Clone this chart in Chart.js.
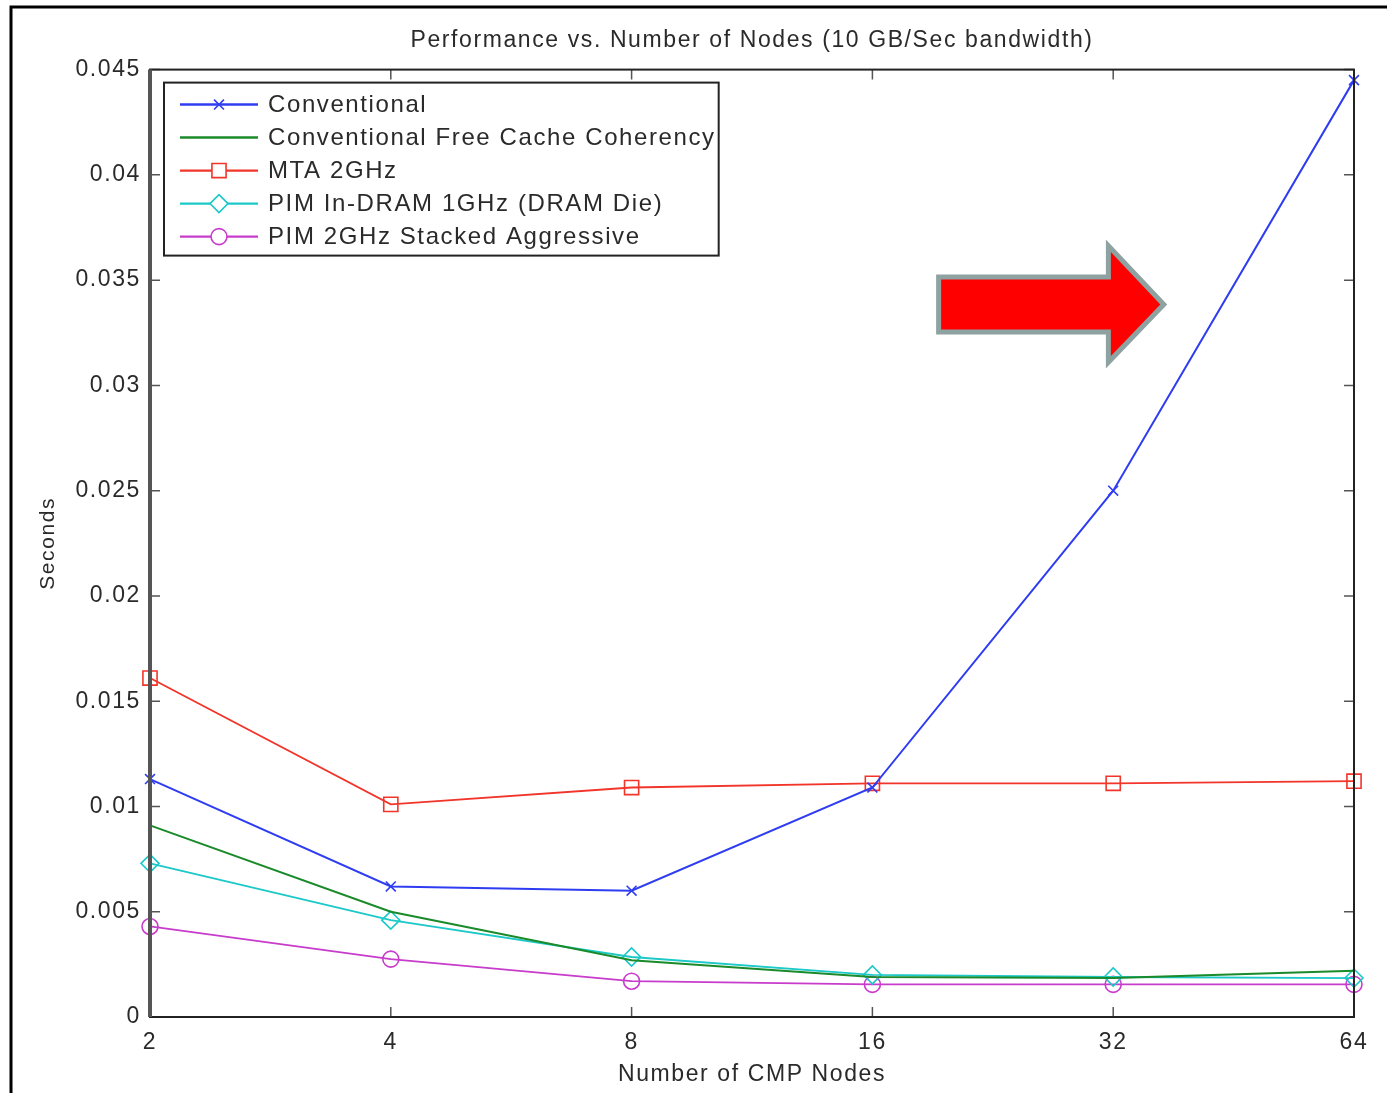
<!DOCTYPE html>
<html>
<head>
<meta charset="utf-8">
<title>Performance vs. Number of Nodes</title>
<script src="https://cdn.jsdelivr.net/npm/chart.js@4/dist/chart.umd.min.js"></script>
<style>
  html, body { margin: 0; padding: 0; background: #fff; }
  #wrap { width: 1387px; height: 1093px; }
</style>
</head>
<body>
<div id="wrap"><canvas id="myChart" width="1387" height="1093"></canvas></div>
<script>
// node counts (log2 spaced, so a category axis is enough)
const nodes = ["2", "4", "8", "16", "32", "64"];
const yTicks = [0, 0.005, 0.01, 0.015, 0.02, 0.025, 0.03, 0.035, 0.04, 0.045];

// seconds
const conventional = [0.0113, 0.0062, 0.0060, 0.0109, 0.0250, 0.0445];
const conventionalFree = [0.0091, 0.0050, 0.0027, 0.0019, 0.00185, 0.0022];
const mta2GHz = [0.0161, 0.0101, 0.0109, 0.0111, 0.0111, 0.0112];
const pimInDram = [0.0073, 0.0046, 0.00285, 0.0020, 0.0019, 0.00185];
const pimStacked = [0.0043, 0.00275, 0.0017, 0.00155, 0.00155, 0.00155];

const FONT = "'Liberation Sans', Arial, sans-serif";
const TXT = "#2a2a2a";
const SPACING = "1.6px";

// the old matlab export has wide letter spacing, canvas state gets reset on resize
const spacingPlugin = {
    id: "spacing",
    beforeUpdate(chart) { chart.ctx.letterSpacing = SPACING; },
    beforeLayout(chart) { chart.ctx.letterSpacing = SPACING; },
    beforeDraw(chart) { chart.ctx.letterSpacing = SPACING; }
};

// frame, inner tick marks, outer figure border
const framePlugin = {
    id: "frame",
    beforeDraw(chart) {
        const c = chart.ctx;
        c.save();
        c.strokeStyle = "#000";
        c.lineWidth = 3;
        c.strokeRect(11, 7, chart.width + 20, chart.height + 20);
        c.restore();
    },
    afterDraw(chart) {
        const c = chart.ctx;
        const a = chart.chartArea;
        const xs = chart.scales.x, ys = chart.scales.y;
        c.save();
        c.strokeStyle = "#555";
        c.lineWidth = 1.5;
        c.beginPath();
        yTicks.forEach(v => {
            const py = ys.getPixelForValue(v);
            c.moveTo(a.left, py); c.lineTo(a.left + 10, py);
            c.moveTo(a.right, py); c.lineTo(a.right - 10, py);
        });
        nodes.forEach((n, i) => {
            const px = xs.getPixelForValue(i);
            c.moveTo(px, a.bottom); c.lineTo(px, a.bottom - 10);
            c.moveTo(px, a.top); c.lineTo(px, a.top + 10);
        });
        c.stroke();
        c.strokeStyle = "#222";
        c.lineWidth = 2;
        c.strokeRect(a.left, a.top, a.right - a.left, a.bottom - a.top);
        c.strokeStyle = "#555";
        c.lineWidth = 4;
        c.beginPath();
        c.moveTo(a.left, a.top); c.lineTo(a.left, a.bottom);
        c.stroke();
        c.restore();
    }
};

// legend box in the upper left of the axes, like matlab
const legendPlugin = {
    id: "boxLegend",
    afterDraw(chart) {
        const c = chart.ctx;
        const a = chart.chartArea;
        const sets = chart.data.datasets;
        const left = a.left + 14, top = a.top + 13;
        const rowH = 33;
        c.save();
        c.font = "24px " + FONT;
        let maxW = 0;
        sets.forEach(d => { maxW = Math.max(maxW, c.measureText(d.label).width); });
        const w = 104 + maxW + 3, h = sets.length * rowH + 8;
        c.fillStyle = "#fff";
        c.fillRect(left, top, w, h);
        c.strokeStyle = "#222";
        c.lineWidth = 2;
        c.strokeRect(left, top, w, h);
        sets.forEach((d, i) => {
            const cy = top + 22 + i * rowH;
            c.strokeStyle = d.borderColor;
            c.lineWidth = d.borderWidth + 0.5;
            c.beginPath();
            c.moveTo(left + 16, cy); c.lineTo(left + 94, cy);
            c.stroke();
            if (d.pointRadius > 0) {
                c.fillStyle = "#fff";
                c.lineWidth = d.pointBorderWidth;
                Chart.helpers.drawPoint(c, {
                    pointStyle: d.pointStyle, radius: d.pointRadius,
                    rotation: 0, borderWidth: d.pointBorderWidth
                }, left + 55, cy);
            }
            c.fillStyle = TXT;
            c.textBaseline = "middle";
            c.fillText(d.label, left + 104, cy + 1);
        });
        c.restore();
    }
};

// red arrow annotation pointing at the steep rise
const arrowPlugin = {
    id: "arrow",
    afterDraw(chart) {
        const a = chart.chartArea;
        const W = a.right - a.left, H = a.bottom - a.top;
        const X = f => a.left + f * W, Y = f => a.top + f * H;
        const c = chart.ctx;
        c.save();
        c.beginPath();
        c.moveTo(X(0.655), Y(0.219));
        c.lineTo(X(0.796), Y(0.219));
        c.lineTo(X(0.796), Y(0.186));
        c.lineTo(X(0.842), Y(0.248));
        c.lineTo(X(0.796), Y(0.309));
        c.lineTo(X(0.796), Y(0.277));
        c.lineTo(X(0.655), Y(0.277));
        c.closePath();
        c.fillStyle = "#ff0000";
        c.fill();
        c.strokeStyle = "#8ea2a2";
        c.lineWidth = 5;
        c.lineJoin = "miter";
        c.stroke();
        c.restore();
    }
};

function series(label, data, color, style, radius, width) {
    return {
        label: label,
        data: data,
        borderColor: color,
        backgroundColor: "rgba(255,255,255,0)",
        borderWidth: width,
        pointStyle: style,
        pointRadius: radius,
        pointBorderWidth: 1.6,
        pointBorderColor: color,
        pointBackgroundColor: "rgba(255,255,255,0)",
        tension: 0
    };
}

const ctx = document.getElementById("myChart");

new Chart(ctx, {
    type: "line",
    data: {
        labels: nodes,
        datasets: [
            series("Conventional", conventional, "#2f3df2", "crossRot", 7, 2),
            series("Conventional Free Cache Coherency", conventionalFree, "#1a8a2a", false, 0, 2),
            series("MTA 2GHz", mta2GHz, "#f2352a", "rect", 10, 1.8),
            series("PIM In-DRAM 1GHz (DRAM Die)", pimInDram, "#1cc8c8", "rectRot", 9, 1.8),
            series("PIM 2GHz Stacked Aggressive", pimStacked, "#c83ccc", "circle", 8, 1.8)
        ]
    },
    options: {
        responsive: false,
        animation: false,
        layout: { padding: { left: 36, right: 33, top: 14, bottom: 0 } },
        plugins: {
            legend: { display: false },
            tooltip: { enabled: false },
            title: {
                display: true,
                fullSize: false,
                text: "Performance vs. Number of Nodes (10 GB/Sec bandwidth)",
                color: TXT,
                font: { family: FONT, size: 23, weight: "normal" },
                padding: { top: 13, bottom: 15 }
            }
        },
        scales: {
            x: {
                type: "category",
                offset: false,
                grid: { display: false, drawTicks: false },
                border: { display: false },
                ticks: { color: TXT, font: { family: FONT, size: 23 }, padding: 12, autoSkip: false, maxRotation: 0 },
                title: {
                    display: true,
                    text: "Number of CMP Nodes",
                    color: TXT,
                    font: { family: FONT, size: 23 },
                    padding: { top: 0, bottom: 5 }
                },
                afterFit(scale) { scale.height = 76; }
            },
            y: {
                min: 0,
                max: 0.045,
                grid: { display: false, drawTicks: false },
                border: { display: false },
                afterBuildTicks(scale) { scale.ticks = yTicks.map(v => ({ value: v })); },
                ticks: {
                    color: TXT,
                    font: { family: FONT, size: 23 },
                    padding: 9,
                    callback: v => String(+v.toFixed(3))
                },
                title: {
                    display: true,
                    text: "Seconds",
                    color: TXT,
                    font: { family: FONT, size: 21 },
                    padding: { top: 0, bottom: 0 }
                },
                afterFit(scale) { scale.width = 114; }
            }
        }
    },
    plugins: [spacingPlugin, framePlugin, legendPlugin, arrowPlugin]
});
</script>
</body>
</html>
